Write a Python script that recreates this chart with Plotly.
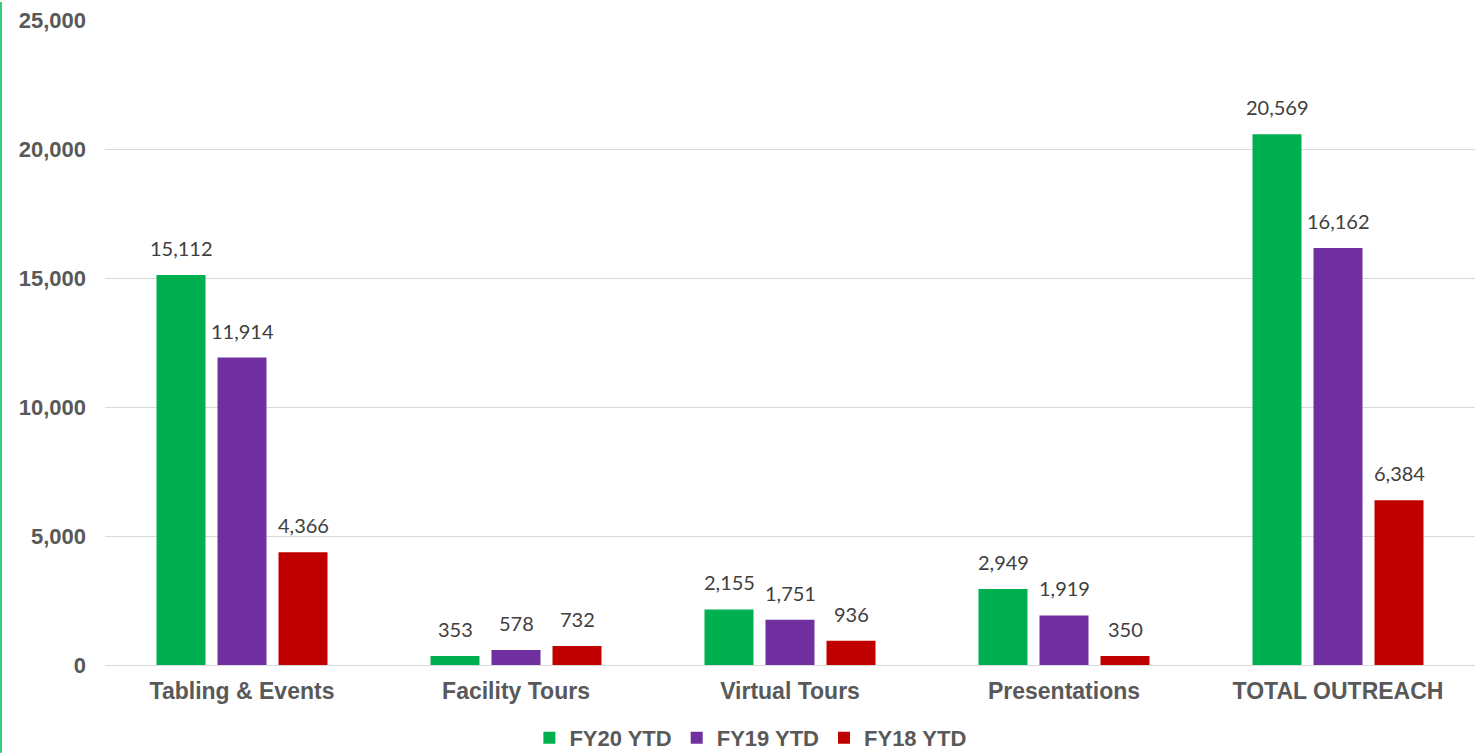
import plotly.graph_objects as go

categories = ["Tabling & Events", "Facility Tours", "Virtual Tours", "Presentations", "TOTAL OUTREACH"]
fy20 = [15112, 353, 2155, 2949, 20569]
fy19 = [11914, 578, 1751, 1919, 16162]
fy18 = [4366, 732, 936, 350, 6384]
series_names = ["FY20 YTD", "FY19 YTD", "FY18 YTD"]
colors = ["#00B050", "#7030A0", "#C00000"]
y_ticks = [0, 5000, 10000, 15000, 20000, 25000]

FAM = "Liberation Sans, Arial, sans-serif"
YTICK = dict(size=22, color="#595959", family=FAM, weight="bold")
BOLD = dict(size=23, color="#595959", family=FAM, weight="bold")
LEG = dict(size=22, color="#595959", family=FAM, weight="bold")
LABEL = dict(family="Lato, Open Sans, sans-serif", size=20, color="#404040")
group_shift = [-61, 0, 61]

fig = go.Figure()
for name, vals, col in zip(series_names, [fy20, fy19, fy18], colors):
    fig.add_trace(go.Bar(
        x=categories, y=vals, name=name, marker_color=col,
        marker_line_width=0,
    ))

for vals, dx in zip([fy20, fy19, fy18], group_shift):
    for cat, v in zip(categories, vals):
        fig.add_annotation(x=cat, y=v, xref="x", yref="y", text=f"{v:,}",
                           showarrow=False, xshift=dx, yshift=13,
                           yanchor="bottom", xanchor="center", font=LABEL)

fig.update_layout(
    barmode="group", bargap=0.332, bargroupgap=0.197,
    width=1483, height=753,
    margin=dict(l=105, r=8, t=18, b=88),
    plot_bgcolor="white", paper_bgcolor="white",
    font=dict(family=FAM, color="#595959"),
    legend=dict(orientation="h", xref="container", yref="container",
                x=0.506, xanchor="center", y=0.02, yanchor="middle",
                font=LEG, itemwidth=30, traceorder="normal"),
    showlegend=True,
)
fig.update_yaxes(range=[0, 25000], tickvals=y_ticks, tickformat=",",
                 showgrid=True, gridcolor="#D9D9D9", gridwidth=1,
                 zeroline=True, zerolinecolor="#D9D9D9", zerolinewidth=1,
                 showline=False, ticks="", ticklabelstandoff=18,
                 tickfont=YTICK)
fig.update_xaxes(showline=False, ticks="", ticklabelstandoff=10, tickfont=BOLD)

fig.add_shape(type="line", xref="paper", yref="paper",
              x0=-104/1370, x1=-104/1370, y0=-88/647, y1=1 + 18/647,
              line=dict(color="#33CC77", width=2))

fig.write_html("out.html", config={"displayModeBar": False},
               post_script="document.body.style.margin='0';document.body.style.overflow='hidden';")
